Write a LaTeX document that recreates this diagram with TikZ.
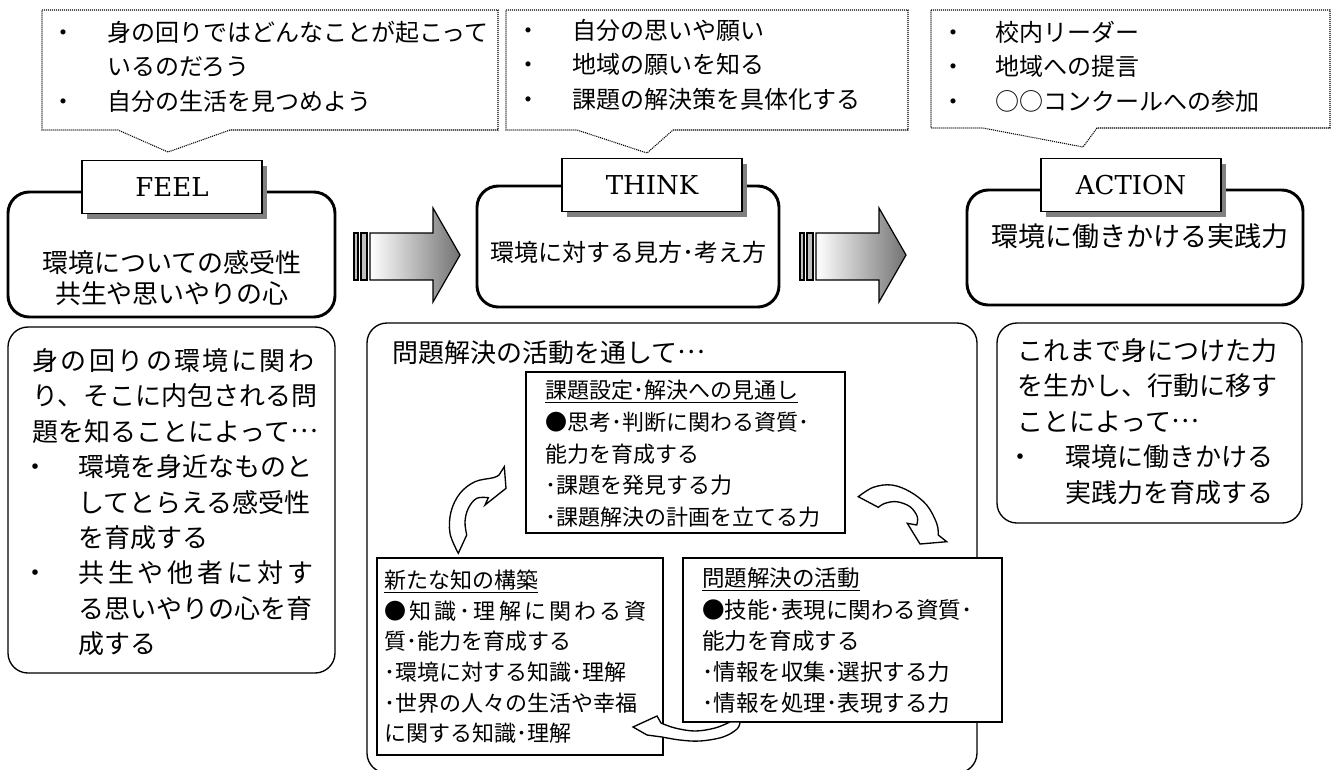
\documentclass[tikz,border=0pt]{standalone}
\usepackage{fontspec}
\newfontfamily\jp{Noto Sans CJK JP}
\newfontfamily\labfont{DejaVu Serif}
\usetikzlibrary{shadows}
\newcommand\jell{\raisebox{0.33em}{…}}
\makeatletter
\def\spreadline#1#2{\makebox[#1][s]{\spr@first#2\relax}}
\def\spr@first#1{#1\spr@rest}
\def\spr@rest#1{\ifx\relax#1\else\hfil#1\expandafter\spr@rest\fi}
\makeatother
\begin{document}
\begin{tikzpicture}[x=0.75pt,y=-0.75pt,
  callout/.style={draw, line width=0.8pt, dash pattern=on 0.8pt off 0.7pt},
  mainbox/.style={draw, line width=2.2pt, rounded corners=16pt, fill=white},
  subbox/.style={draw, line width=1pt, rounded corners=15pt, fill=white},
  innerbox/.style={draw, line width=1pt, fill=white},
  lab/.style={draw, line width=1.1pt, fill=white, minimum width=135pt, minimum height=40pt, inner sep=0pt,
    font=\labfont\fontsize{19.5}{24}\selectfont,
    drop shadow={shadow xshift=4pt, shadow yshift=-4pt, fill=black!50, opacity=1}},
  blockarrow/.style={draw, line width=0.9pt, left color=white, right color=black!55},
  bar/.style={draw, line width=0.9pt, fill=black!25},
  carrow/.style={draw, line width=1pt, fill=white, line join=miter},
  cotext/.style={anchor=north west, inner sep=0pt, align=left, font={\jp\fontsize{18}{25.9}\selectfont}},
  bigtext/.style={inner sep=0pt, align=center, anchor=north},
  bodytext/.style={anchor=north west, inner sep=0pt, align=left, font={\jp\fontsize{19.5}{26.6}\selectfont}},
  smalltext/.style={anchor=north west, inner sep=0pt, align=left}
]
\path[use as bounding box, clip] (0,0) rectangle (1335,769);
\fill[white] (0,0) rectangle (1335,769);

% ---- dotted callouts ----
\draw[callout] (42,10) -- (498,10) -- (498,130) -- (230,130) -- (168,152) -- (118,130) -- (42,130) -- cycle;
\draw[callout] (506,10) -- (908,10) -- (908,130) -- (673,130) -- (647,153) -- (577,130) -- (506,130) -- cycle;
\draw[callout] (931,10) -- (1330,10) -- (1330,128) -- (1097,128) -- (1083,147) -- (983,128) -- (931,128) -- cycle;

\node[cotext] (c1) at (51,19.5) {\rule{0pt}{0.9em}\makebox[42pt][l]{・}身の回りではどんなことが起こって\\
\hspace*{42pt}いるのだろう\\
\makebox[42pt][l]{・}自分の生活を見つめよう};
\node[cotext] (c2) at (516,17.5) {\rule{0pt}{0.9em}\makebox[42pt][l]{・}自分の思いや願い\\
\makebox[42pt][l]{・}地域の願いを知る\\
\makebox[42pt][l]{・}課題の解決策を具体化する};
\node[cotext] (c3) at (941,19.5) {\rule{0pt}{0.9em}\makebox[41pt][l]{・}校内リーダー\\
\makebox[41pt][l]{・}地域への提言\\
\makebox[41pt][l]{・}○○コンクールへの参加};

% ---- main boxes ----
\draw[mainbox] (8,192) rectangle (335,317);
\draw[mainbox] (477,186) rectangle (779,307);
\draw[mainbox] (967,190) rectangle (1303,305);

\node[lab] (feel) at (172,187) {FEEL};
\node[lab] (think) at (652,185) {THINK};
\node[lab] (action) at (1131,185) {ACTION};

\node[bigtext, font={\jp\fontsize{19.5}{23.25}\selectfont}] (feeltxt) at (172,248.5) {\rule{0pt}{0.9em}環境についての感受性\\共生や思いやりの心};
\node[bigtext, font={\jp\fontsize{18}{24}\selectfont}] (thinktxt) at (628,239.5) {\rule{0pt}{0.9em}環境に対する見方･考え方};
\node[bigtext, font={\jp\fontsize{20.25}{24}\selectfont}] (actiontxt) at (1140,222) {\rule{0pt}{0.9em}環境に働きかける実践力};

% ---- block arrows ----
\draw[bar] (354,233) rectangle (358,280);
\draw[bar] (361,233) rectangle (367,280);
\draw[blockarrow] (370,233) -- (433,233) -- (433,208) -- (460,255) -- (433,302) -- (433,280) -- (370,280) -- cycle;
\draw[bar] (800,233) rectangle (804,280);
\draw[bar] (807,233) rectangle (813,280);
\draw[blockarrow] (816,233) -- (879,233) -- (879,208) -- (906,255) -- (879,302) -- (879,280) -- (816,280) -- cycle;

% ---- lower boxes ----
\draw[subbox] (8,327) rectangle (335,673);
\draw[subbox] (367,323) rectangle (977,773);
\draw[subbox] (997,323) rectangle (1302,523);

\node[bodytext] (feelbody) at (32,346.5) {\rule{0pt}{0.9em}\spreadline{211.5pt}{身の回りの環境に関わ}\\
り、そこに内包される問\\
題を知ることによって\jell\\
\makebox[34.5pt][l]{\kern-7.5pt・}環境を身近なものと\\
\hspace*{34.5pt}してとらえる感受性\\
\hspace*{34.5pt}を育成する\\
\makebox[34.5pt][l]{\kern-7.5pt・}\spreadline{176.25pt}{共生や他者に対す}\\
\hspace*{34.5pt}る思いやりの心を育\\
\hspace*{34.5pt}成する};

\node[bodytext] (midtitle) at (392,338.5) {\rule{0pt}{0.9em}問題解決の活動を通して\jell};

\node[bodytext] (actbody) at (1017,336.5) {\rule{0pt}{0.9em}これまで身につけた力\\
を生かし、行動に移す\\
ことによって\jell\\
\makebox[36pt][l]{\kern-7.5pt・}環境に働きかける\\
\hspace*{36pt}実践力を育成する};

% ---- inner boxes ----
\draw[innerbox] (526,372) rectangle (845,533);
\draw[innerbox] (377,558) rectangle (663,755);
\draw[innerbox] (683,558) rectangle (1002,722);

\node[smalltext, font={\jp\fontsize{16.5}{23.8}\selectfont}] (b1) at (545,378.6) {\rule{0pt}{0.9em}\underline{課題設定･解決への見通し}\\
●思考･判断に関わる資質･\\
能力を育成する\\
･課題を発見する力\\
･課題解決の計画を立てる力};

\node[smalltext, font={\jp\fontsize{16.5}{22.95}\selectfont}] (b2) at (384,568.6) {\rule{0pt}{0.9em}\underline{新たな知の構築}\\
\spreadline{197pt}{●知識･理解に関わる資}\\
質･能力を育成する\\
･環境に対する知識･理解\\
･世界の人々の生活や幸福\\
に関する知識･理解};

\node[smalltext, font={\jp\fontsize{16.9}{23.4}\selectfont}] (b3) at (702,566.3) {\rule{0pt}{0.9em}\underline{問題解決の活動}\\
●技能･表現に関わる資質･\\
能力を育成する\\
･情報を収集･選択する力\\
･情報を処理･表現する力};

% ---- curved cycle arrows ----
\draw[carrow] (458.3,553.3) -- plot[smooth, tension=0.6] coordinates {(458.3,553.3) (450,533.3) (451,511.7) (460,493.3) (475,481.7) (493.3,477.7) (499,475)}
  -- (504.3,466.7) -- (506,488.3) -- (485,505) -- (488.3,497.7)
  -- plot[smooth, tension=0.6] coordinates {(488.3,497.7) (476.7,498.3) (468.3,508.3) (465,521.7) (466.7,535)} -- cycle;

\draw[carrow] (858.3,496.7) -- plot[smooth, tension=0.6] coordinates {(858.3,496.7) (873.3,487.3) (891.7,485) (910,491.7) (926.7,505) (936.7,523.3) (938.3,535)}
  -- (946.7,541.7) -- (920,544) -- (907.3,523.3) -- (916.7,525)
  -- plot[smooth, tension=0.6] coordinates {(916.7,525) (917.3,516.7) (910,506.7) (896.7,501.7) (885,503.3) (878.3,507.3)} -- cycle;

\draw[carrow] (633,727) -- (657,716) -- (661,723)
  -- plot[smooth, tension=0.6] coordinates {(661,723) (675,728) (695,731) (715,728) (730,722)}
  -- (740,722)
  -- plot[smooth, tension=0.6] coordinates {(740,722) (737,729) (723,737) (700,741) (680,740) (662,737)}
  -- (647,735) -- cycle;
\end{tikzpicture}
\end{document}
